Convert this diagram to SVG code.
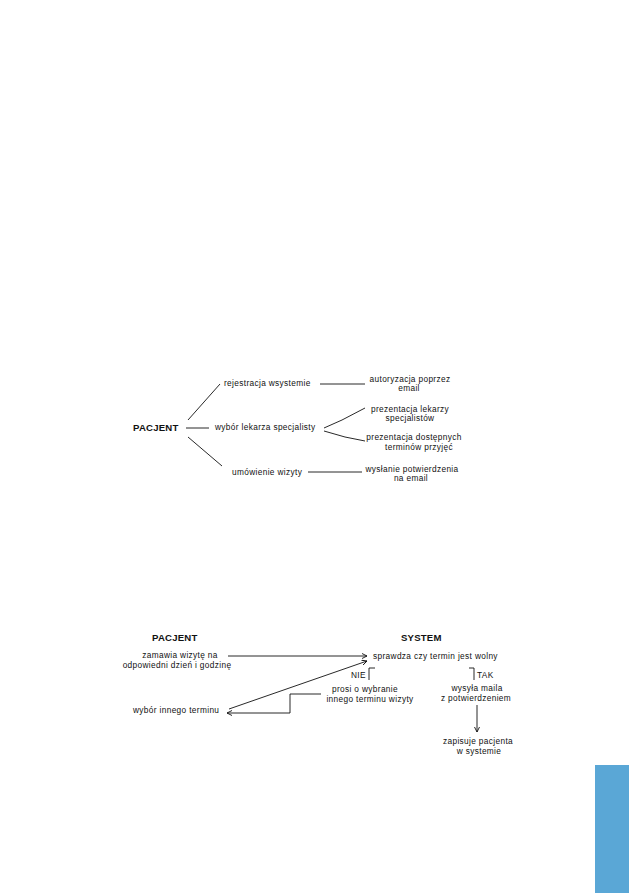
<svg xmlns="http://www.w3.org/2000/svg" width="629" height="893" viewBox="0 0 629 893">
<style>
text{font-family:"Liberation Sans",Arial,sans-serif;font-size:8.3px;letter-spacing:0.35px;fill:#111}
.b{font-weight:bold;font-size:9.6px;letter-spacing:0.2px}
.m{text-anchor:middle}
.c line,.c polyline{stroke:#111;stroke-width:0.9;fill:none}
</style>
<defs>
<marker id="ah" viewBox="0 0 6 6" refX="5.5" refY="3" markerWidth="6" markerHeight="6" markerUnits="userSpaceOnUse" orient="auto">
<polyline points="0.5,0.5 5.5,3 0.5,5.5" fill="none" stroke="#111" stroke-width="0.9"/>
</marker>
</defs>
<rect width="629" height="893" fill="#fff"/>

<!-- top diagram -->
<g id="t-pacjent"><text class="b" x="133" y="431">PACJENT</text></g>
<g id="t-rejestracja"><text x="224" y="386">rejestracja wsystemie</text></g>
<g id="t-wybor"><text x="215" y="430">wybór lekarza specjalisty</text></g>
<g id="t-umowienie"><text x="232" y="475">umówienie wizyty</text></g>
<g id="t-autoryzacja"><text class="m" x="410" y="381.5">autoryzacja poprzez</text><text class="m" x="409" y="391">email</text></g>
<g id="t-prez-lek"><text class="m" x="410" y="411.5">prezentacja lekarzy</text><text class="m" x="410" y="421">specjalistów</text></g>
<g id="t-prez-term"><text class="m" x="414" y="440">prezentacja dostępnych</text><text class="m" x="419" y="449.5">terminów przyjęć</text></g>
<g id="t-wyslanie"><text class="m" x="412" y="471.5">wysłanie potwierdzenia</text><text class="m" x="411" y="481">na email</text></g>

<g id="t-connectors" class="c">
<line x1="188" y1="420" x2="220" y2="384"/>
<line x1="186" y1="428" x2="209" y2="428"/>
<line x1="188" y1="437" x2="222" y2="466"/>
<line x1="320" y1="384" x2="365" y2="384"/>
<polyline points="324,428 342,420 365,408"/>
<polyline points="324,431 345,437 365,441"/>
<line x1="308" y1="472" x2="362" y2="472"/>
</g>

<!-- bottom diagram -->
<g id="b-pacjent"><text class="b" x="152" y="641">PACJENT</text></g>
<g id="b-system"><text class="b" x="401" y="641">SYSTEM</text></g>
<g id="b-zamawia"><text class="m" x="180" y="658">zamawia wizytę na</text><text class="m" x="177" y="667.5">odpowiedni dzień i godzinę</text></g>
<g id="b-sprawdza"><text x="373" y="659">sprawdza czy termin jest wolny</text></g>
<g id="b-nie"><text x="351" y="678">NIE</text></g>
<g id="b-tak"><text x="477" y="678">TAK</text></g>
<g id="b-prosi"><text class="m" x="365" y="692">prosi o wybranie</text><text class="m" x="370" y="701.5">innego terminu wizyty</text></g>
<g id="b-wysyla"><text class="m" x="477" y="691">wysyła maila</text><text class="m" x="476" y="700.5">z potwierdzeniem</text></g>
<g id="b-zapisuje"><text class="m" x="478" y="744">zapisuje pacjenta</text><text class="m" x="479" y="753.5">w systemie</text></g>
<g id="b-wybor"><text x="133" y="713">wybór innego terminu</text></g>

<g id="b-connectors" class="c">
<line x1="228" y1="656" x2="367" y2="656" marker-end="url(#ah)"/>
<line x1="229" y1="709" x2="367" y2="661" marker-end="url(#ah)"/>
<polyline points="321,694 290,694 290,713 227,713" marker-end="url(#ah)"/>
<polyline points="369,680 369,668 375,668"/>
<polyline points="469,668 474,668 474,680"/>
<line x1="477" y1="705" x2="477" y2="732" marker-end="url(#ah)"/>
</g>

<rect x="595" y="765" width="34" height="128" fill="#5aa7d6"/>
</svg>
